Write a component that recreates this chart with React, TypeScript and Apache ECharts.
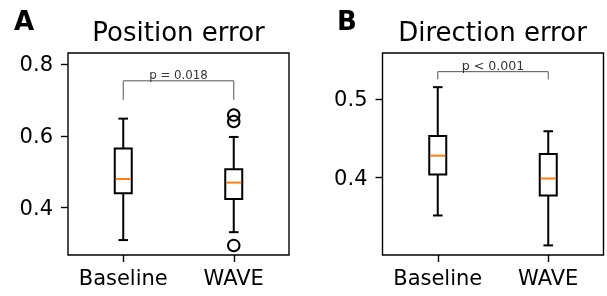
import React, { useEffect, useRef } from "react";
import * as echarts from "echarts";

const categories = ["Baseline", "WAVE"];
const categoryIdx = [0, 1];
// [min whisker, Q1, median, Q3, max whisker]
const posBoxBaseline = [0.31, 0.44, 0.48, 0.565, 0.648];
const posBoxWave = [0.332, 0.424, 0.47, 0.507, 0.597];
const posOutliers = [[1, 0.658], [1, 0.64], [1, 0.295]];
const dirBoxBaseline = [0.352, 0.404, 0.428, 0.453, 0.515];
const dirBoxWave = [0.314, 0.3775, 0.399, 0.43, 0.459];
const posYTicks = [0.4, 0.6, 0.8];
const dirYTicks = [0.4, 0.5];
const posRange = [0.2685, 0.8306];
const dirRange = [0.3018, 0.5584];
const posBracket = [0.7003, 0.7532];
const dirBracket = [0.525, 0.5347];
const posP = "p = 0.018";
const dirP = "p < 0.001";

const FONT = "DejaVu Sans";

function boxRender(params: any, api: any) {
  const x = api.value(0);
  const vals = [api.value(1), api.value(2), api.value(3), api.value(4), api.value(5)];
  const ps = vals.map((v) => api.coord([x, v]));
  const cx = ps[0][0];
  const hw = 8.5;
  const cw = 4.8;
  const lw = 2;
  const st = { stroke: "#000", lineWidth: lw, fill: "none" };
  return {
    type: "group",
    children: [
      { type: "line", shape: { x1: cx, y1: ps[3][1], x2: cx, y2: ps[4][1] }, style: st },
      { type: "line", shape: { x1: cx, y1: ps[1][1], x2: cx, y2: ps[0][1] }, style: st },
      { type: "line", shape: { x1: cx - cw, y1: ps[4][1], x2: cx + cw, y2: ps[4][1] }, style: st },
      { type: "line", shape: { x1: cx - cw, y1: ps[0][1], x2: cx + cw, y2: ps[0][1] }, style: st },
      { type: "rect", shape: { x: cx - hw, y: ps[3][1], width: 2 * hw, height: ps[1][1] - ps[3][1] }, style: { stroke: "#000", lineWidth: lw, fill: "#fff" } },
      { type: "line", shape: { x1: cx - hw + 1, y1: ps[2][1], x2: cx + hw - 1, y2: ps[2][1] }, style: { stroke: "#ff7f0e", lineWidth: lw } },
    ],
  };
}

function bracketRender(label: string, fs: number) {
  return (params: any, api: any) => {
    const lo = api.value(1);
    const hi = api.value(2);
    const a = api.coord([0, lo]);
    const b = api.coord([0, hi]);
    const c = api.coord([1, hi]);
    const d = api.coord([1, lo]);
    return {
      type: "group",
      children: [
        { type: "polyline", shape: { points: [a, b, c, d] }, style: { stroke: "#555", lineWidth: 1, fill: "none" } },
        {
          type: "text",
          x: (b[0] + c[0]) / 2,
          y: b[1] + 0.5,
          style: { text: label, font: `${fs}px '${FONT}'`, fill: "#333", align: "center", verticalAlign: "bottom" },
        },
      ],
    };
  };
}

export default function App() {
  const ref = useRef<HTMLDivElement>(null);
  useEffect(() => {
    if (!ref.current) return;
    const chart = echarts.init(ref.current, null, { renderer: "svg" });
    const grids = [
      { left: 68, top: 53, width: 221, height: 202 },
      { left: 382.5, top: 53, width: 221, height: 202 },
    ];
    const xAxis = [0, 1].map((i) => ({
      type: "value",
      gridIndex: i,
      min: -0.5,
      max: 1.5,
      axisLine: { show: false, onZero: false },
      splitLine: { show: false },
      axisTick: { show: true, length: 7, customValues: categoryIdx, lineStyle: { color: "#000", width: 1.4 } },
      axisLabel: {
        customValues: categoryIdx,
        fontSize: 21,
        color: "#000",
        fontFamily: FONT,
        margin: 12,
        formatter: (v: number) => categories[Math.round(v)] ?? "",
      },
    }));
    const mkY = (i: number, range: number[], ticks: number[]) => ({
      type: "value",
      gridIndex: i,
      min: range[0],
      max: range[1],
      axisLine: { show: false, onZero: false },
      splitLine: { show: false },
      axisTick: { show: true, length: 7, customValues: ticks, lineStyle: { color: "#000", width: 1.4 } },
      axisLabel: { customValues: ticks, fontSize: 21, color: "#000", fontFamily: FONT, margin: 15, formatter: (v: number) => v.toFixed(1) },
    });
    chart.setOption({
      animation: false,
      grid: grids.map((g) => ({ ...g, show: true, borderColor: "#000", borderWidth: 1.4, backgroundColor: "transparent" })),
      xAxis,
      yAxis: [mkY(0, posRange, posYTicks), mkY(1, dirRange, dirYTicks)],
      series: [
        {
          type: "custom",
          xAxisIndex: 0,
          yAxisIndex: 0,
          renderItem: boxRender,
          encode: { x: 0, y: [1, 2, 3, 4, 5] },
          data: [[0, ...posBoxBaseline], [1, ...posBoxWave]],
        },
        {
          type: "scatter",
          xAxisIndex: 0,
          yAxisIndex: 0,
          symbol: "circle",
          symbolSize: 11.5,
          itemStyle: { color: "transparent", borderColor: "#000", borderWidth: 2, opacity: 1 },
          data: posOutliers,
        },
        {
          type: "custom",
          xAxisIndex: 0,
          yAxisIndex: 0,
          renderItem: bracketRender(posP, 11.8),
          encode: { x: 0, y: [1, 2] },
          data: [[0, ...posBracket]],
        },
        {
          type: "custom",
          xAxisIndex: 1,
          yAxisIndex: 1,
          renderItem: boxRender,
          encode: { x: 0, y: [1, 2, 3, 4, 5] },
          data: [[0, ...dirBoxBaseline], [1, ...dirBoxWave]],
        },
        {
          type: "custom",
          xAxisIndex: 1,
          yAxisIndex: 1,
          renderItem: bracketRender(dirP, 12.6),
          encode: { x: 0, y: [1, 2] },
          data: [[0, ...dirBracket]],
        },
      ],
      graphic: [
        { type: "text", x: 178.5, y: 32, style: { text: "Position error", font: `26px '${FONT}'`, fill: "#000", align: "center", verticalAlign: "middle" } },
        { type: "text", x: 492.5, y: 32, style: { text: "Direction error", font: `26px '${FONT}'`, fill: "#000", align: "center", verticalAlign: "middle" } },
        { type: "text", x: 14, y: 21, style: { text: "A", font: `bold 26px '${FONT}'`, fill: "#000", align: "left", verticalAlign: "middle" } },
        { type: "text", x: 337, y: 21, style: { text: "B", font: `bold 26px '${FONT}'`, fill: "#000", align: "left", verticalAlign: "middle" } },
      ],
    });
    return () => chart.dispose();
  }, []);
  return <div ref={ref} style={{ position: "fixed", left: 0, top: 0, width: 607, height: 296 }} />;
}
